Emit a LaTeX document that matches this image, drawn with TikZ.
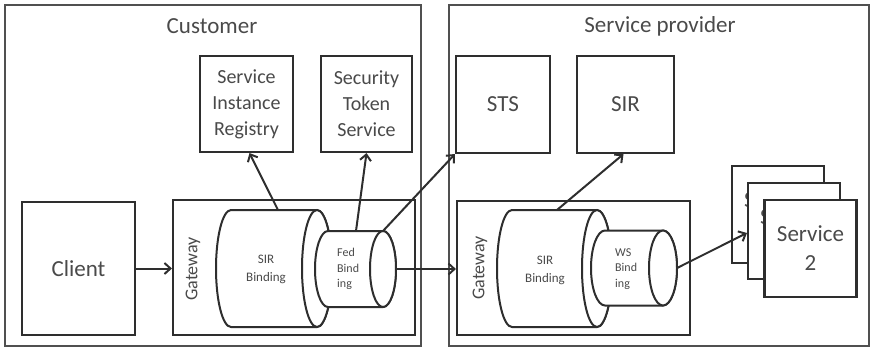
\documentclass[tikz,border=0pt]{standalone}
\usepackage{fontspec}
\setmainfont{Carlito}
\usetikzlibrary{arrows.meta,calc}
\definecolor{ln}{HTML}{2E2E2E}
\definecolor{frame}{HTML}{505050}
\definecolor{txt}{HTML}{4A4A4A}
\tikzset{
  outerbox/.style={draw=frame,line width=2.2pt},
  box/.style={draw=ln,line width=2.1pt,fill=white,text=txt,align=center,inner sep=0pt},
  conn/.style={draw=ln,line width=2pt,-{Straight Barb[length=6pt,width=11pt,line width=2pt]}},
  cyl/.style={draw=ln,line width=2pt,fill=white},
  lbl/.style={text=txt,inner sep=0pt}
}
\begin{document}
\begin{tikzpicture}[x=1pt,y=-1pt]
\useasboundingbox (0,0) rectangle (871,349);
% outer frames
\draw[outerbox] (5,5) rectangle (421,346);
\draw[outerbox] (449,5) rectangle (869,346);
\node[lbl,font=\fontsize{23}{27}\selectfont] (custT) at (212,26) {Customer};
\node[lbl,font=\fontsize{23}{27}\selectfont] (provT) at (660,26) {Service provider};
% top boxes
\node[box,minimum width=93pt,minimum height=96pt,font=\fontsize{20}{26}\selectfont] (sirreg) at (246.5,104) {Service\\Instance\\Registry};
\node[box,minimum width=91pt,minimum height=96pt,font=\fontsize{20}{26}\selectfont] (stsc) at (366.5,104) {Security\\Token\\Service};
\node[box,minimum width=94pt,minimum height=97pt,font=\fontsize{23}{27}\selectfont] (stsp) at (503,104.5) {STS};
\node[box,minimum width=97pt,minimum height=97pt,font=\fontsize{23}{27}\selectfont] (sirp) at (625.5,104.5) {SIR};
% client and gateways
\node[box,minimum width=113pt,minimum height=133pt,font=\fontsize{23}{27}\selectfont] (client) at (78.5,268.5) {Client};
\node[box,minimum width=242pt,minimum height=135pt] (gwc) at (294,267.5) {};
\node[box,minimum width=233pt,minimum height=134pt] (gwp) at (573.5,268) {};
\node[lbl,rotate=90,font=\fontsize{18}{22}\selectfont] (gwcT) at (193,269) {Gateway};
\node[lbl,rotate=90,font=\fontsize{18}{22}\selectfont] (gwpT) at (480,268) {Gateway};
% customer SIR binding cylinder
\draw[cyl] (231,210) -- (317,210) arc[start angle=90,end angle=-90,x radius=15pt,y radius=58.5pt] -- (231,327) arc[start angle=270,end angle=90,x radius=15pt,y radius=58.5pt] -- cycle;
\draw[cyl] (317,268.5) ellipse[x radius=15pt,y radius=58.5pt];
\node[lbl,align=center,font=\fontsize{13}{18}\selectfont] (csirT) at (266,269) {SIR\\Binding};
% fed binding cylinder
\draw[cyl] (328,231) -- (383,231) arc[start angle=90,end angle=-90,x radius=13pt,y radius=38pt] -- (328,307) arc[start angle=270,end angle=90,x radius=13pt,y radius=38pt] -- cycle;
\draw[cyl] (383,269) ellipse[x radius=13pt,y radius=38pt];
\node[lbl,align=left,anchor=west,font=\fontsize{12}{15.5}\selectfont] (fedT) at (337,269) {Fed\\Bind\\ing};
% provider SIR binding cylinder
\draw[cyl] (512,210) -- (597,210) arc[start angle=90,end angle=-90,x radius=15pt,y radius=58.5pt] -- (512,327) arc[start angle=270,end angle=90,x radius=15pt,y radius=58.5pt] -- cycle;
\draw[cyl] (597,268.5) ellipse[x radius=15pt,y radius=58.5pt];
\node[lbl,align=center,font=\fontsize{13}{18}\selectfont] (psirT) at (545,270) {SIR\\Binding};
% WS binding cylinder
\draw[cyl] (605,230.5) -- (663,230.5) arc[start angle=90,end angle=-90,x radius=14pt,y radius=37.5pt] -- (605,305.5) arc[start angle=270,end angle=90,x radius=14pt,y radius=37.5pt] -- cycle;
\draw[cyl] (663,268) ellipse[x radius=14pt,y radius=37.5pt];
\node[lbl,align=left,anchor=west,font=\fontsize{12}{15.5}\selectfont] (wsT) at (615,269) {WS\\Bind\\ing};
% services stack
\node[box,minimum width=92pt,minimum height=97pt] (svcA) at (778,214.5) {};
\node[lbl,anchor=west,font=\fontsize{23}{29}\selectfont] (svcAT) at (744,200) {S};
\node[box,minimum width=92pt,minimum height=96pt] (svcB) at (794,231) {};
\node[lbl,anchor=west,font=\fontsize{23}{29}\selectfont] (svcBT) at (760,217) {S};
\node[box,minimum width=92pt,minimum height=97pt,font=\fontsize{23}{29}\selectfont] (svcC) at (810.5,248.5) {Service\\2};
% connector anchors on cylinders
\coordinate (csirTop) at (278,210);
\coordinate (fedTop) at (356,231);
\coordinate (fedRim) at (383,231);
\coordinate (fedRight) at (396,269);
\coordinate (psirTop) at (557,210);
\coordinate (wsRight) at (677,268);
% connectors
\draw[conn] (client.east) -- (client.east -| gwc.west);
\draw[conn] (csirTop) -- ($(sirreg.south)+(3,0)$);
\draw[conn] (fedTop) -- (stsc.south);
\draw[conn] (fedRim) -- (stsp.south west);
\draw[conn] (fedRight) -- (fedRight -| gwp.west);
\draw[conn] (psirTop) -- ($(sirp.south)+(-2,0)$);
\draw[conn] (wsRight) -- ($(svcB.west)+(0,2)$);
\end{tikzpicture}
\end{document}
